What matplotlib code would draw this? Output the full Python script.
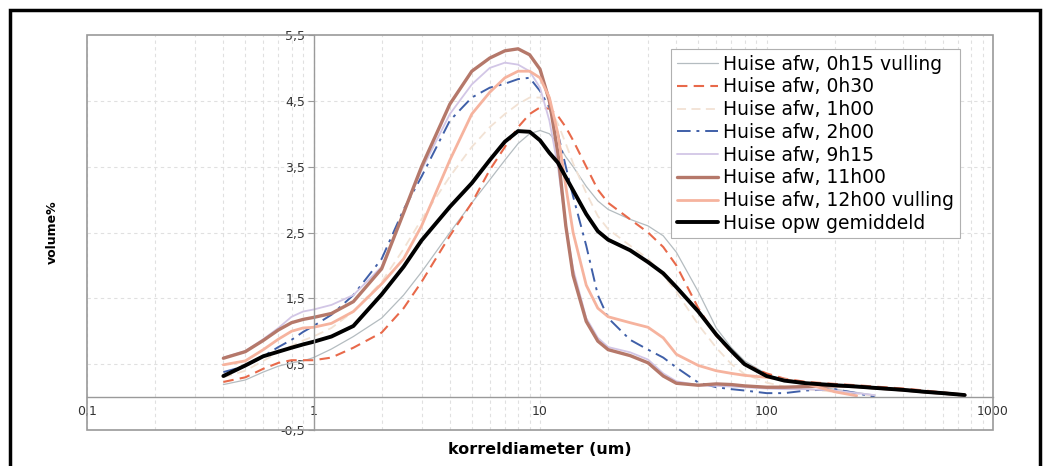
import matplotlib
matplotlib.use("Agg")
import matplotlib.pyplot as plt
from matplotlib.patches import Rectangle
from matplotlib.ticker import FixedLocator, FuncFormatter, LogLocator, NullFormatter

# korreldiameter (um)
diam = [0.4, 0.5, 0.6, 0.7, 0.8, 0.9, 1.0, 1.2, 1.5, 2, 2.5, 3, 4, 5, 6, 7, 8, 9,
        10, 11, 12, 13, 14, 16, 18, 20, 25, 30, 35, 40, 50, 60, 70, 80, 100, 120,
        150, 200, 250, 300, 400, 500, 600, 700, 750]

# volume% per serie
afw_0h15 = [0.19, 0.26, 0.38, 0.47, 0.52, 0.55, 0.60, 0.73, 0.92, 1.20, 1.55, 1.90,
            2.50, 2.95, 3.30, 3.60, 3.85, 4.00, 4.05, 4.00, 3.85, 3.65, 3.50, 3.20,
            2.98, 2.85, 2.70, 2.60, 2.45, 2.20, 1.60, 1.05, 0.75, 0.55, 0.35, 0.25,
            0.18, 0.12, 0.07, 0.03]
afw_0h30 = [0.23, 0.30, 0.43, 0.52, 0.56, 0.56, 0.56, 0.60, 0.75, 0.98, 1.35, 1.75,
            2.45, 2.95, 3.45, 3.80, 4.10, 4.30, 4.40, 4.38, 4.27, 4.10, 3.90, 3.50,
            3.15, 2.95, 2.70, 2.50, 2.28, 2.00, 1.35, 0.93, 0.68, 0.50, 0.36, 0.28,
            0.23, 0.20, 0.18, 0.16, 0.13, 0.10, 0.07, 0.05, 0.03]
afw_1h00 = [0.30, 0.40, 0.55, 0.68, 0.78, 0.86, 0.92, 1.05, 1.30, 1.75, 2.25, 2.70,
            3.35, 3.80, 4.10, 4.30, 4.45, 4.55, 4.55, 4.40, 4.15, 3.85, 3.55, 3.10,
            2.75, 2.55, 2.30, 2.10, 1.85, 1.60, 1.10, 0.75, 0.50, 0.35, 0.22, 0.16,
            0.12, 0.08, 0.05, 0.02]
afw_2h00 = [0.38, 0.47, 0.62, 0.76, 0.87, 0.99, 1.08, 1.25, 1.55, 2.10, 2.85, 3.35,
            4.20, 4.55, 4.70, 4.76, 4.83, 4.85, 4.65, 4.40, 4.00, 3.50, 3.05, 2.30,
            1.55, 1.20, 0.87, 0.72, 0.60, 0.45, 0.22, 0.15, 0.12, 0.10, 0.06, 0.06,
            0.10, 0.12, 0.06, 0.00]
afw_9h15 = [0.60, 0.70, 0.88, 1.05, 1.22, 1.30, 1.33, 1.40, 1.55, 1.98, 2.80, 3.45,
            4.30, 4.75, 5.00, 5.08, 5.05, 4.95, 4.70, 4.20, 3.50, 2.60, 1.95, 1.20,
            0.90, 0.76, 0.68, 0.57, 0.36, 0.24, 0.18, 0.17, 0.16, 0.15, 0.13, 0.12,
            0.12, 0.10, 0.06, 0.03]
afw_11h00 = [0.59, 0.69, 0.86, 1.02, 1.13, 1.18, 1.21, 1.27, 1.45, 1.95, 2.80, 3.50,
             4.45, 4.95, 5.15, 5.26, 5.29, 5.20, 4.98, 4.50, 3.70, 2.60, 1.85, 1.15,
             0.85, 0.72, 0.63, 0.52, 0.32, 0.21, 0.18, 0.20, 0.19, 0.17, 0.15, 0.15,
             0.16, 0.17, 0.16, 0.14, 0.11, 0.08, 0.06, 0.04, 0.03]
afw_12h00 = [0.49, 0.55, 0.72, 0.88, 1.00, 1.05, 1.06, 1.12, 1.30, 1.72, 2.10, 2.60,
             3.60, 4.30, 4.63, 4.85, 4.95, 4.95, 4.85, 4.55, 4.00, 3.20, 2.50, 1.70,
             1.35, 1.22, 1.13, 1.06, 0.90, 0.65, 0.48, 0.40, 0.36, 0.33, 0.30, 0.27,
             0.20, 0.08, 0.02]
opw_gem = [0.32, 0.48, 0.62, 0.69, 0.75, 0.80, 0.84, 0.92, 1.08, 1.56, 1.98, 2.38,
           2.89, 3.25, 3.60, 3.88, 4.04, 4.03, 3.90, 3.71, 3.56, 3.34, 3.14, 2.78,
           2.52, 2.39, 2.23, 2.05, 1.88, 1.67, 1.30, 0.95, 0.70, 0.50, 0.32, 0.25,
           0.21, 0.18, 0.16, 0.14, 0.11, 0.08, 0.06, 0.04, 0.03]

labels = ["Huise afw, 0h15 vulling", "Huise afw, 0h30", "Huise afw, 1h00",
          "Huise afw, 2h00", "Huise afw, 9h15", "Huise afw, 11h00",
          "Huise afw, 12h00 vulling", "Huise opw gemiddeld"]
series = [afw_0h15, afw_0h30, afw_1h00, afw_2h00, afw_9h15, afw_11h00, afw_12h00, opw_gem]
styles = [
    dict(color="#b4bcc0", lw=0.9, ls="-"),
    dict(color="#e8694a", lw=1.5, ls=(0, (5, 3))),
    dict(color="#f2e2d4", lw=1.3, ls=(0, (5, 3))),
    dict(color="#3f5fa8", lw=1.4, ls=(0, (7, 3, 1.5, 3))),
    dict(color="#d2c6e6", lw=1.3, ls="-"),
    dict(color="#b5786a", lw=2.4, ls="-"),
    dict(color="#f6b39e", lw=2.0, ls="-"),
    dict(color="black", lw=2.8, ls="-"),
]

yticks = [-0.5, 0.5, 1.5, 2.5, 3.5, 4.5, 5.5]
xticks = [0.1, 1, 10, 100, 1000]


def main():
    fig = plt.figure(figsize=(10.46, 4.66), dpi=100)
    ax = fig.add_axes([87 / 1046, 1 - 430 / 466, 906 / 1046, 395 / 466])

    for vals, lab, st in zip(series, labels, styles):
        ax.plot(diam[:len(vals)], vals, label=lab, solid_capstyle="round", **st)

    ax.set_xscale("log")
    ax.set_xlim(0.1, 1000)
    ax.set_ylim(-0.5, 5.5)

    # gridlines
    ax.xaxis.set_major_locator(FixedLocator(xticks))
    ax.xaxis.set_minor_locator(LogLocator(base=10, subs=range(2, 10)))
    ax.xaxis.set_minor_formatter(NullFormatter())
    ax.grid(True, which="both", axis="x", color="#e0e0e0", lw=0.8, ls=(0, (3, 3)))
    for y in [0.5, 1.5, 2.5, 3.5, 4.5]:
        ax.axhline(y, color="#e0e0e0", lw=0.8, ls=(0, (3, 3)), zorder=0)

    # axes cross at x=1, y=0
    ax.spines["left"].set_position(("data", 1))
    ax.spines["bottom"].set_position(("data", 0))
    for s in ["left", "bottom"]:
        ax.spines[s].set_color("#9a9a9a")
        ax.spines[s].set_linewidth(1.0)
    ax.spines["top"].set_visible(False)
    ax.spines["right"].set_visible(False)
    ax.add_patch(Rectangle((0, 0), 1, 1, transform=ax.transAxes, fill=False,
                           edgecolor="#9a9a9a", lw=1.2, clip_on=False, zorder=5))

    ax.set_yticks(yticks)
    ax.yaxis.set_major_formatter(FuncFormatter(lambda v, p: f"{v:.1f}".replace(".", ",")))
    ax.xaxis.set_major_formatter(FuncFormatter(lambda v, p: f"{v:g}".replace(".", ",")))
    ax.tick_params(axis="y", direction="out", length=4, color="#9a9a9a",
                   labelsize=9, labelcolor="#333333", pad=2)
    ax.tick_params(axis="x", which="both", length=0, labelsize=9,
                   labelcolor="#333333", pad=6)

    fig.text(540 / 1046, 1 - 450 / 466, "korreldiameter (um)", fontsize=11.5,
             fontweight="bold", ha="center", va="center")
    fig.text(52 / 1046, 1 - 232 / 466, "volume%", fontsize=9, fontweight="bold",
             rotation=90, ha="center", va="center")

    leg = ax.legend(loc="upper right", bbox_to_anchor=(0.9636, 0.9646),
                    borderaxespad=0, fontsize=13.5, frameon=True, fancybox=False,
                    framealpha=1, edgecolor="#b0b0b0", handlelength=2.2,
                    handletextpad=0.3, labelspacing=0.2, borderpad=0.3)
    leg.get_frame().set_linewidth(0.8)

    # outer black frame
    fig.add_artist(Rectangle((9.5 / 1046, -0.02), (1040 - 9.5) / 1046, 1.02 - 9.5 / 466,
                             transform=fig.transFigure, fill=False, lw=2.5,
                             edgecolor="black"))

    fig.savefig("out.png", dpi=100)


if __name__ == "__main__":
    main()
